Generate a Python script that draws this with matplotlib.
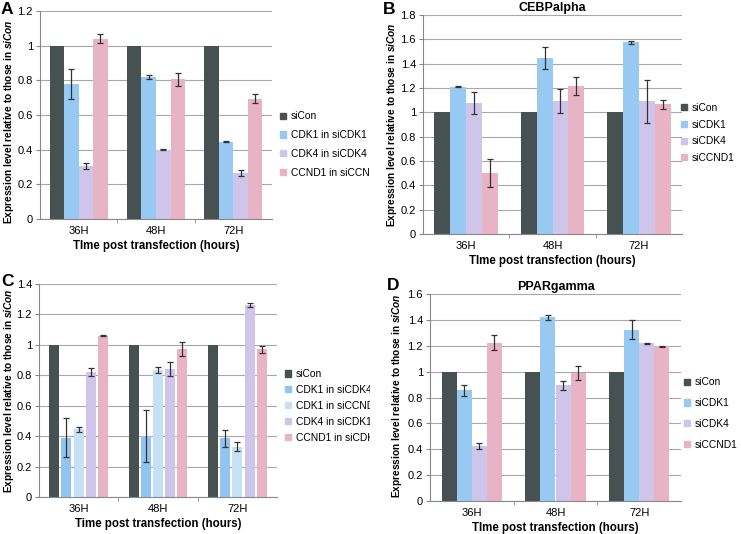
import matplotlib
matplotlib.use("Agg")
import matplotlib.pyplot as plt
import numpy as np
from matplotlib.patches import Patch
from matplotlib.transforms import Bbox, TransformedBbox

plt.rcParams['font.family'] = ['Liberation Sans', 'DejaVu Sans']
plt.rcParams['mathtext.fontset'] = 'custom'
plt.rcParams['mathtext.it'] = 'Liberation Sans:italic:bold'
plt.rcParams['mathtext.rm'] = 'Liberation Sans:bold'

categories = ["36H", "48H", "72H"]

# Panel A
a_labels = ["siCon", "CDK1 in siCDK1", "CDK4 in siCDK4", "CCND1 in siCCND1"]
a_vals = [[1, 1, 1], [0.78, 0.82, 0.445], [0.305, 0.40, 0.265], [1.04, 0.805, 0.695]]
a_errs = [[0, 0, 0], [0.085, 0.012, 0.003], [0.017, 0.003, 0.017], [0.025, 0.035, 0.025]]

# Panel B
b_labels = ["siCon", "siCDK1", "siCDK4", "siCCND1"]
b_vals = [[1, 1, 1], [1.21, 1.445, 1.575], [1.075, 1.095, 1.09], [0.50, 1.215, 1.065]]
b_errs = [[0, 0, 0], [0.003, 0.09, 0.015], [0.09, 0.10, 0.175], [0.115, 0.075, 0.035]]

# Panel C
c_labels = ["siCon", "CDK1 in siCDK4", "CDK1 in siCCND1", "CDK4 in siCDK1", "CCND1 in siCDK1"]
c_vals = [[1, 1, 1], [0.39, 0.40, 0.385], [0.445, 0.835, 0.33], [0.82, 0.84, 1.26], [1.06, 0.975, 0.97]]
c_errs = [[0, 0, 0], [0.13, 0.17, 0.055], [0.015, 0.02, 0.03], [0.025, 0.045, 0.012], [0.003, 0.045, 0.025]]

# Panel D
d_labels = ["siCon", "siCDK1", "siCDK4", "siCCND1"]
d_vals = [[1, 1, 1], [0.855, 1.42, 1.325], [0.425, 0.895, 1.22], [1.225, 0.99, 1.195]]
d_errs = [[0, 0, 0], [0.04, 0.02, 0.075], [0.02, 0.035, 0.003], [0.06, 0.055, 0.005]]

GRAY = "#485151"
BLUE = "#97c9f3"
LBLUE = "#c6e1f6"
LAV = "#cfc4ea"
PINK = "#e8b3c5"
colors4 = [GRAY, BLUE, LAV, PINK]
colors5 = [GRAY, "#91c4f0", LBLUE, LAV, PINK]

W, H = 741, 534
fig = plt.figure(figsize=(W / 100, H / 100), dpi=100)


def rect(l, r, t, b):
    return [l / W, (H - b) / H, (r - l) / W, (b - t) / H]


YLAB = r"Expression level relative to those in $\it{siCon}$"


def panel(pos, labels, vals, errs, colors, ymax, step, title, xlab,
          width, stride, leg_xy, leg_space, clip_left, ylab_xy):
    l, r, t, b = pos
    ax = fig.add_axes(rect(*pos))
    n = len(labels)
    x = np.arange(len(categories))
    handles = []
    for i in range(n):
        off = (i - (n - 1) / 2) * stride
        ax.bar(x + off, vals[i], width, color=colors[i], zorder=2)
        e = np.array(errs[i])
        if e.any():
            ax.errorbar(x + off, vals[i], yerr=e, fmt='none', ecolor='#333333',
                        elinewidth=0.9, capsize=2.2, capthick=0.9, zorder=3)
        handles.append(Patch(color=colors[i]))
    ax.set_xlim(-0.5, len(categories) - 0.5)
    ax.set_ylim(0, ymax)
    ticks = np.round(np.arange(0, ymax + 1e-9, step), 2)
    ax.set_yticks(ticks)
    ax.set_yticklabels([f"{t:g}" for t in ticks])
    ax.yaxis.grid(True, color='#a8a8a8', linewidth=0.8, zorder=0)
    ax.set_axisbelow(True)
    ax.set_xticks(x)
    ax.set_xticklabels(categories)
    ax.tick_params(axis='x', length=0, labelsize=8, pad=5)
    ax.tick_params(axis='y', length=3, labelsize=8, color='#888888', pad=2)
    ax.set_xticks([0.5, 1.5], minor=True)
    ax.tick_params(axis='x', which='minor', length=3, color='#888888')
    for s in ['top', 'right']:
        ax.spines[s].set_visible(False)
    for s in ['left', 'bottom']:
        ax.spines[s].set_color('#888888')
        ax.spines[s].set_linewidth(0.8)
    ax.set_ylabel(YLAB, fontsize=7.3, fontweight='bold', va='center')
    ax.yaxis.set_label_coords((ylab_xy[0] - l) / (r - l), (b - ylab_xy[1]) / (b - t))
    ax.set_xlabel(xlab, fontsize=8.3, fontweight='bold', labelpad=3)
    if title:
        ax.set_title(title, fontsize=9, fontweight='bold', pad=3)
    leg = fig.legend(handles, labels, loc='center left',
                     bbox_to_anchor=(leg_xy[0] / W, 1 - leg_xy[1] / H),
                     frameon=False, fontsize=7.4, handlelength=0.55,
                     handleheight=0.55, handletextpad=0.5,
                     labelspacing=leg_space, borderaxespad=0, borderpad=0)
    if clip_left:
        cb = TransformedBbox(Bbox([[0, 0], [370 / W, 1]]), fig.transFigure)
        for tx in leg.get_texts():
            tx.set_clip_box(cb)
            tx.set_clip_on(True)
    return ax


panel((40, 272, 11, 219), a_labels, a_vals, a_errs, colors4, 1.2, 0.2, None,
      "TIme post transfection (hours)", 0.188, 0.188, (280, 144.5), 0.85, True, (9, 122))
panel((423, 682, 15, 234), b_labels, b_vals, b_errs, colors4, 1.8, 0.2, "CEBPalpha",
      "TIme post transfection (hours)", 0.185, 0.185, (681, 133), 0.65, False, (392, 125))
panel((39, 277, 284, 497), c_labels, c_vals, c_errs, colors5, 1.4, 0.2, None,
      "Time post transfection (hours)", 0.127, 0.154, (285, 406), 0.58, True, (9, 391))
panel((430, 681, 294, 501), d_labels, d_vals, d_errs, colors4, 1.6, 0.2, "PPARgamma",
      "TIme post transfection (hours)", 0.18, 0.18, (684, 413.5), 1.04, False, (397, 396))

for letter, (px, py) in zip("ABCD", [(1, 9), (383, 10), (1, 281), (387, 285)]):
    fig.text(px / W, 1 - py / H, letter, fontsize=12.5, fontweight='bold',
             va='center', ha='left')

fig.savefig("out.png", dpi=100)
